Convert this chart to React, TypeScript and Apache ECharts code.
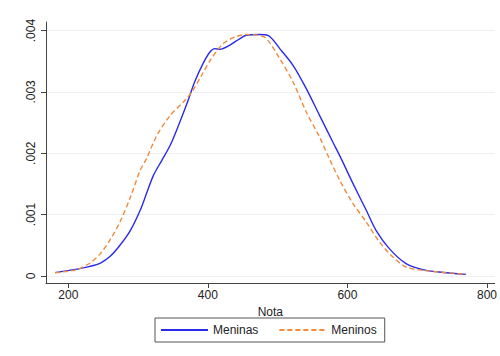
import React, { useEffect, useRef } from "react";
import * as echarts from "echarts";

const meninasNota = [181, 208, 231, 246, 260, 274, 289, 303, 312, 322, 334, 346, 358, 370, 381, 393, 403, 410, 417, 431, 446, 455, 474, 486, 503, 522, 541, 560, 579, 591, 608, 627, 641, 660, 684, 708, 731, 770];
const meninasDens = [0.000052, 0.000101, 0.000155, 0.000209, 0.000318, 0.000498, 0.000742, 0.001069, 0.001341, 0.001639, 0.001884, 0.002129, 0.002455, 0.002809, 0.003162, 0.003462, 0.003651, 0.003706, 0.003695, 0.00376, 0.00387, 0.003923, 0.003935, 0.003923, 0.003706, 0.003434, 0.003054, 0.002618, 0.002183, 0.001912, 0.001504, 0.001069, 0.000742, 0.000444, 0.000199, 0.000101, 0.000062, 0.000024];

const meninosNota = [181, 212, 231, 246, 260, 274, 289, 303, 312, 327, 346, 365, 377, 391, 405, 422, 439, 455, 474, 484, 503, 522, 541, 560, 574, 589, 608, 627, 646, 665, 684, 708, 770];
const meninosDens = [0.000052, 0.000101, 0.000209, 0.000362, 0.000591, 0.000878, 0.001285, 0.001721, 0.001912, 0.002292, 0.002618, 0.002835, 0.002998, 0.003271, 0.003543, 0.003788, 0.003896, 0.003935, 0.003923, 0.00387, 0.003543, 0.003162, 0.002672, 0.002264, 0.001912, 0.001558, 0.001178, 0.000878, 0.000551, 0.000307, 0.000144, 0.00009, 0.000024];

const xTicks = [200, 400, 600, 800];
const yTicks = [0, 0.001, 0.002, 0.003, 0.004];

const FONT = "Liberation Sans, Arial, sans-serif";

export default function App() {
  const ref = useRef<HTMLDivElement>(null);
  useEffect(() => {
    if (!ref.current) return;
    const chart = echarts.init(ref.current, null, { renderer: "svg" });
    const fmtY = (v: number) => (v === 0 ? "0" : v.toFixed(3).replace(/^0/, ""));
    chart.setOption({
      animation: false,
      backgroundColor: "#ffffff",
      grid: { left: 46, top: 22, width: 450, height: 261, containLabel: false },
      xAxis: {
        type: "value",
        min: 168,
        max: 811,
        name: "Nota",
        nameLocation: "middle",
        nameGap: 23,
        nameTextStyle: { fontFamily: FONT, fontSize: 12, color: "#222" },
        axisLine: { show: true, onZero: false, lineStyle: { color: "#444", width: 1 } },
        axisTick: { show: true, customValues: xTicks, length: 5, lineStyle: { color: "#444" } },
        axisLabel: { customValues: xTicks, fontFamily: FONT, fontSize: 12, color: "#222", margin: 6 },
        splitLine: { show: false },
      },
      yAxis: {
        type: "value",
        min: -0.000117,
        max: 0.00414,
        axisLine: { show: true, onZero: false, lineStyle: { color: "#444", width: 1 } },
        axisTick: { show: true, customValues: yTicks, length: 5, lineStyle: { color: "#444" } },
        axisLabel: {
          customValues: yTicks,
          rotate: 90,
          fontFamily: FONT,
          fontSize: 12,
          color: "#222",
          margin: 9,
          formatter: fmtY,
        },
        splitLine: { show: true, lineStyle: { color: "#eef1f3", width: 1 } },
      },
      legend: {
        left: 155,
        top: 318,
        orient: "horizontal",
        itemWidth: 47,
        itemHeight: 10,
        itemGap: 20,
        padding: [6, 8, 6, 5],
        borderColor: "#555",
        borderWidth: 1,
        itemStyle: { opacity: 0, borderWidth: 0 },
        textStyle: { fontFamily: FONT, fontSize: 12, color: "#222" },
        data: ["Meninas", "Meninos"],
      },
      series: [
        {
          name: "Meninas",
          type: "line",
          symbol: "none",
          data: meninasNota.map((x, i) => [x, meninasDens[i]]),
          showSymbol: false,
          smooth: 0.3,
          lineStyle: { color: "#2a2aee", width: 1.4, type: "solid" },
          itemStyle: { color: "#2a2aee" },
        },
        {
          name: "Meninos",
          type: "line",
          symbol: "none",
          data: meninosNota.map((x, i) => [x, meninosDens[i]]),
          showSymbol: false,
          smooth: 0.3,
          lineStyle: { color: "#f08a3c", width: 1.4, type: [5, 3] },
          itemStyle: { color: "#f08a3c" },
        },
      ],
    });
    return () => chart.dispose();
  }, []);
  return <div ref={ref} style={{ width: 500, height: 356, position: "absolute", left: 0, top: 0 }} />;
}
